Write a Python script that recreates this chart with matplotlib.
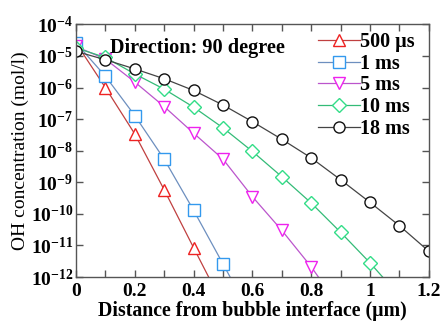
import matplotlib
matplotlib.use('Agg')
import matplotlib.pyplot as plt
import numpy as np

plt.rcParams['font.family'] = ['Liberation Serif', 'DejaVu Serif']
plt.rcParams['mathtext.fontset'] = 'custom'
plt.rcParams['mathtext.rm'] = 'Liberation Serif:bold'
plt.rcParams['mathtext.bf'] = 'Liberation Serif:bold'
plt.rcParams['mathtext.it'] = 'Liberation Serif:bold:italic'

labels = ['500 µs', '1 ms', '5 ms', '10 ms', '18 ms']
x_500us = [0.0, 0.1, 0.2, 0.3, 0.4, 0.5]
y_500us = [2.6e-5, 1.0e-6, 3.4e-8, 5.8e-10, 8.5e-12, 1.3e-13]
x_1ms = [0.0, 0.1, 0.2, 0.3, 0.4, 0.5, 0.6]
y_1ms = [2.6e-5, 2.3e-6, 1.3e-7, 5.4e-9, 1.3e-10, 2.6e-12, 5e-14]
x_5ms = [0.0, 0.1, 0.2, 0.3, 0.4, 0.5, 0.6, 0.7, 0.8, 0.9]
y_5ms = [2.0e-5, 8.0e-6, 1.5e-6, 2.5e-7, 3.6e-8, 5.4e-9, 3.5e-10, 3.0e-11, 2.1e-12, 1e-13]
x_10ms = [0.0, 0.1, 0.2, 0.3, 0.4, 0.5, 0.6, 0.7, 0.8, 0.9, 1.0, 1.1]
y_10ms = [1.8e-5, 9.0e-6, 2.7e-6, 8.9e-7, 2.4e-7, 5.3e-8, 9.5e-9, 1.5e-9, 2.2e-10, 2.6e-11, 2.8e-12, 2.5e-13]
x_18ms = [0.0, 0.1, 0.2, 0.3, 0.4, 0.5, 0.6, 0.7, 0.8, 0.9, 1.0, 1.1, 1.2]
y_18ms = [1.4e-5, 7.6e-6, 3.9e-6, 1.9e-6, 8.1e-7, 2.8e-7, 8.3e-8, 2.3e-8, 5.9e-9, 1.2e-9, 2.3e-10, 4.2e-11, 6.5e-12]

xs = [x_500us, x_1ms, x_5ms, x_10ms, x_18ms]
ys = [y_500us, y_1ms, y_5ms, y_10ms, y_18ms]
markers = ['^', 's', 'v', 'D', 'o']
msizes = [8.5, 8, 8.5, 7.5, 8]
mcolors = ['#ee2222', '#3399ee', '#ee22ee', '#33dd88', '#111111']
lcolors = ['#c04040', '#6d8fbf', '#bb55cc', '#33bb77', '#444444']

fig = plt.figure(figsize=(4.44, 3.21), dpi=100)
ax = fig.add_axes([0.171, 0.137, 0.795, 0.787])

for x, y, m, ms, mc, lc, lab in zip(xs, ys, markers, msizes, mcolors, lcolors, labels):
    ax.plot(x, y, color=lc, lw=0.9, marker=m, ms=ms, mfc='white', mec=mc,
            mew=1.0, label=lab, clip_on=True)

ax.set_yscale('log')
ax.set_xlim(0, 1.2)
ax.set_ylim(1e-12, 1e-4)
ax.set_xticks([0, 0.2, 0.4, 0.6, 0.8, 1.0, 1.2])
ax.set_xticklabels(['0', '0.2', '0.4', '0.6', '0.8', '1', '1.2'])
ax.set_xticks(np.arange(0.1, 1.2, 0.2), minor=True)
ax.set_yticks([10.0**k for k in range(-12, -3)])
ax.set_yticklabels([r'$\mathbf{10^{%d}}$' % k for k in range(-12, -3)])
ax.yaxis.set_minor_locator(matplotlib.ticker.NullLocator())
ax.tick_params(which='both', direction='in', top=True, right=True,
               color='#555555', width=1.0)
ax.tick_params(which='major', length=5)
ax.tick_params(axis='y', which='major', labelsize=14, pad=2)
ax.tick_params(axis='x', which='major', labelsize=14, pad=4)
ax.tick_params(which='minor', length=5)
for lbl in ax.get_xticklabels():
    lbl.set_fontweight('bold')
for sp in ax.spines.values():
    sp.set_color('#555555')
    sp.set_linewidth(1.0)

ax.set_xlabel('Distance from bubble interface (µm)', fontsize=14.3,
              fontweight='bold', labelpad=1)
ax.set_ylabel('OH concentration (mol/l)', fontsize=14, labelpad=1)

ax.text(0.097, 0.945, 'Direction: 90 degree', transform=ax.transAxes,
        fontsize=14.6, fontweight='bold', va='top', ha='left')

leg = ax.legend(loc='upper left', frameon=False,
                handlelength=2.1, handletextpad=0.0, labelspacing=0.08,
                borderaxespad=0.0, borderpad=0.0,
                bbox_to_anchor=(0.686, 0.969),
                prop={'weight': 'bold', 'size': 14.5})

fig.savefig('out.png', dpi=100)
